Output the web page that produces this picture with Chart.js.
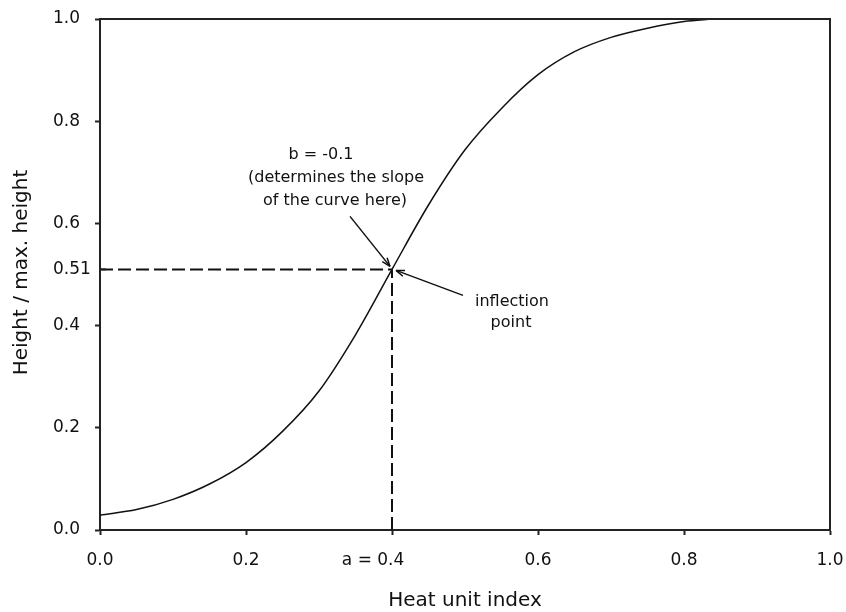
<!DOCTYPE html>
<html>
<head>
<meta charset="utf-8">
<script src="https://cdn.jsdelivr.net/npm/chart.js@4.4.1/dist/chart.umd.min.js"></script>
<style>
  html, body { margin: 0; padding: 0; background: #fff; }
</style>
</head>
<body>
<canvas id="growthChart" width="846" height="612"></canvas>
<script>
// values
const heatIndex = [0, 0.05, 0.1, 0.15, 0.2, 0.25, 0.3, 0.35, 0.4, 0.45, 0.5, 0.55, 0.6, 0.65, 0.7, 0.75, 0.8, 0.84];
const relHeight = [0.029, 0.040, 0.060, 0.090, 0.132, 0.193, 0.272, 0.382, 0.510, 0.636, 0.744, 0.825, 0.891, 0.936, 0.964, 0.982, 0.995, 1.0];

const xTicks = [0, 0.2, 0.4, 0.6, 0.8, 1.0];
const yTicks = [0, 0.2, 0.4, 0.51, 0.6, 0.8, 1.0];

const inflectionX = 0.4;
const inflectionY = 0.51;

const FONT = '"DejaVu Sans", "Liberation Sans", Arial, sans-serif';
const INK = '#111';

function arrow(ctx, x0, y0, x1, y1) {
    const ang = Math.atan2(y1 - y0, x1 - x0);
    const len = 9;
    ctx.beginPath();
    ctx.moveTo(x0, y0);
    ctx.lineTo(x1, y1);
    ctx.stroke();
    ctx.beginPath();
    ctx.moveTo(x1, y1);
    ctx.lineTo(x1 - len * Math.cos(ang - 0.35), y1 - len * Math.sin(ang - 0.35));
    ctx.moveTo(x1, y1);
    ctx.lineTo(x1 - len * Math.cos(ang + 0.35), y1 - len * Math.sin(ang + 0.35));
    ctx.stroke();
}

const annotate = {
    id: 'annotate',
    afterDraw(chart) {
        const { ctx, chartArea: a, scales: { x, y } } = chart;
        ctx.save();

        // frame top and right
        ctx.strokeStyle = '#222';
        ctx.lineWidth = 2;
        ctx.beginPath();
        ctx.moveTo(a.left, a.top);
        ctx.lineTo(a.right, a.top);
        ctx.lineTo(a.right, a.bottom);
        ctx.stroke();

        // the 0.51 tick points inward
        const px = x.getPixelForValue(inflectionX);
        const py = y.getPixelForValue(inflectionY);
        ctx.beginPath();
        ctx.moveTo(a.left, py);
        ctx.lineTo(a.left + 6, py);
        ctx.stroke();

        // arrows to the inflection point
        ctx.strokeStyle = INK;
        ctx.lineWidth = 1.5;
        arrow(ctx, px - 42, py - 53, px - 2, py - 3);
        arrow(ctx, px + 71, py + 26, px + 4, py + 1);

        ctx.fillStyle = INK;
        ctx.font = '16px ' + FONT;
        ctx.textAlign = 'center';
        ctx.textBaseline = 'middle';
        ctx.fillText('b = -0.1', 321, 155);
        ctx.fillText('(determines the slope', 336, 178);
        ctx.fillText('of the curve here)', 335, 201);
        ctx.fillText('inflection', 512, 302);
        ctx.fillText('point', 511, 323);

        // y axis title
        ctx.font = '20px ' + FONT;
        ctx.translate(22, (a.top + a.bottom) / 2 - 2);
        ctx.rotate(-Math.PI / 2);
        ctx.fillText('Height / max. height', 0, 0);

        ctx.restore();
    }
};

const ctx = document.getElementById('growthChart').getContext('2d');

new Chart(ctx, {
    type: 'scatter',
    data: {
        datasets: [
            {
                data: heatIndex.map((v, i) => ({ x: v, y: relHeight[i] })),
                showLine: true,
                borderColor: INK,
                borderWidth: 1.5,
                pointRadius: 0,
                cubicInterpolationMode: 'monotone'
            },
            {
                data: [{ x: 0, y: inflectionY }, { x: inflectionX, y: inflectionY }],
                showLine: true,
                borderColor: INK,
                borderWidth: 2,
                borderDash: [13, 5],
                pointRadius: 0
            },
            {
                data: [{ x: inflectionX, y: 0 }, { x: inflectionX, y: inflectionY }],
                showLine: true,
                borderColor: INK,
                borderWidth: 2,
                borderDash: [13, 5],
                pointRadius: 0
            }
        ]
    },
    options: {
        responsive: false,
        animation: false,
        layout: { padding: { top: 19, right: 16, bottom: 0, left: 53 } },
        plugins: {
            legend: { display: false },
            tooltip: { enabled: false }
        },
        scales: {
            x: {
                type: 'linear',
                min: 0,
                max: 1,
                afterFit: s => { s.height = 82; s.paddingLeft = 0; s.paddingRight = 0; },
                afterBuildTicks: s => { s.ticks = xTicks.map(v => ({ value: v })); },
                border: { display: true, color: '#222', width: 2 },
                grid: { drawOnChartArea: false, drawTicks: true, tickLength: 5, tickColor: '#222', tickWidth: 2 },
                ticks: {
                    color: INK,
                    padding: 15,
                    font: { family: FONT, size: 17 },
                    callback: v => v === inflectionX ? 'a = ' + v.toFixed(1) + '       ' : v.toFixed(1)
                },
                title: {
                    display: true,
                    text: 'Heat unit index',
                    color: INK,
                    font: { family: FONT, size: 20, lineHeight: 1.1 },
                    padding: { top: 0, bottom: 0 }
                }
            },
            y: {
                type: 'linear',
                min: 0,
                max: 1,
                afterFit: s => { s.width = 47; s.paddingTop = 0; s.paddingBottom = 0; },
                afterBuildTicks: s => { s.ticks = yTicks.map(v => ({ value: v })); },
                border: { display: true, color: '#222', width: 2 },
                grid: {
                    drawOnChartArea: false,
                    drawTicks: true,
                    tickLength: 5,
                    tickWidth: 2,
                    tickColor: c => c.tick && c.tick.value === inflectionY ? 'rgba(0,0,0,0)' : '#222'
                },
                ticks: {
                    color: INK,
                    padding: 13,
                    crossAlign: 'far',
                    font: { family: FONT, size: 17 },
                    callback: v => v === inflectionY ? '0.51' : v.toFixed(1)
                }
            }
        }
    },
    plugins: [annotate]
});
</script>
</body>
</html>
